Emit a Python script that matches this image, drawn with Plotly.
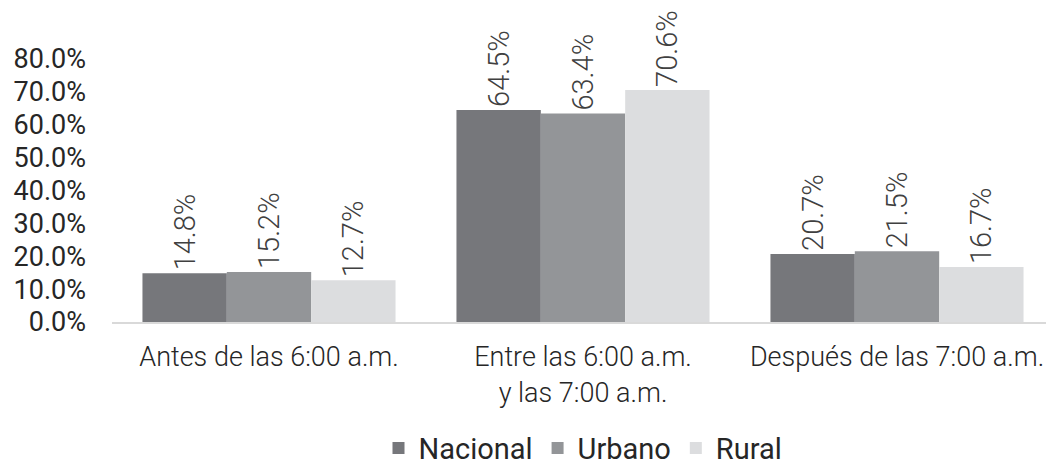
import plotly.graph_objects as go

categories = ["Antes de las 6:00 a.m.", "Entre las 6:00 a.m.<br>y las 7:00 a.m.", "Después de las 7:00 a.m."]
series_names = ["Nacional", "Urbano", "Rural"]
nacional = [14.8, 64.5, 20.7]
urbano = [15.2, 63.4, 21.5]
rural = [12.7, 70.6, 16.7]
colors = ["#76777B", "#939598", "#DCDDDF"]
y_ticks = [0, 10, 20, 30, 40, 50, 60, 70, 80]
y_tick_labels = [f"{v:.1f}%" for v in y_ticks]

fig = go.Figure()
for name, vals, col in zip(series_names, [nacional, urbano, rural], colors):
    fig.add_trace(go.Bar(
        x=categories, y=vals, name=name,
        marker=dict(color=col, line=dict(width=0)),
        text=[f"{v:.1f}%" for v in vals],
        textposition="outside", textangle=-90,
        textfont=dict(family="Roboto", size=29, color="#404040", weight=300),
        cliponaxis=False,
    ))

fig.update_layout(
    width=1046, height=457,
    margin=dict(l=104, r=0, t=51, b=143, autoexpand=False),
    paper_bgcolor="white", plot_bgcolor="white",
    barmode="group", bargap=0.194, bargroupgap=0,
    font=dict(family="Roboto", color="#262626"),
    uniformtext=dict(mode=False),
    legend=dict(orientation="h", x=0.5, xanchor="center", y=-0.48, yanchor="middle",
                font=dict(size=29, color="#262626"), itemwidth=30, traceorder="normal"),
    xaxis=dict(showline=True, linecolor="#D9D9D9", linewidth=2, ticks="",
               tickfont=dict(size=27, color="#262626", weight=300), showgrid=False,
               ticklabelstandoff=10),
    yaxis=dict(range=[0, 80], tickvals=y_ticks, ticktext=y_tick_labels,
               showgrid=False, zeroline=False, showline=False,
               tickfont=dict(size=27, color="#262626"), ticklabelstandoff=25),
)

fig.write_html("out.html")
